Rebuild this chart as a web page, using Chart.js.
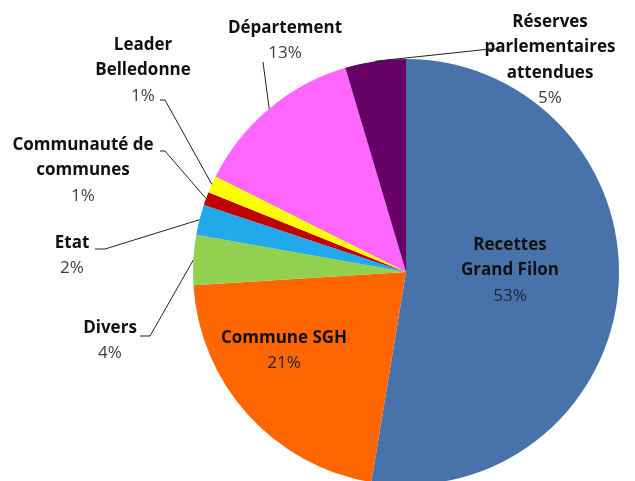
<!DOCTYPE html>
<html lang="fr">
<head>
<meta charset="utf-8">
<title>Financement</title>
<script src="https://cdn.jsdelivr.net/npm/chart.js"></script>
<style>
  html, body { margin: 0; padding: 0; background: #fff; overflow: hidden; }
  #wrap { position: absolute; left: 0; top: 0; width: 635px; height: 485px; }
</style>
</head>
<body>
<div id="wrap"><canvas id="pie"></canvas></div>
<script>
// categories, clockwise from 12 o'clock
const categories = [
  ['Recettes', 'Grand Filon'],
  ['Commune SGH'],
  ['Divers'],
  ['Etat'],
  ['Communauté de', 'communes'],
  ['Leader', 'Belledonne'],
  ['Département'],
  ['Réserves', 'parlementaires', 'attendues']
];
// shares (%)
const shares = [52.6, 21.4, 3.8, 2.3, 1.0, 1.3, 13.0, 4.6];
const sliceColors = ['#4773AA', '#FF6600', '#92D050', '#21A9EC', '#C00000', '#FFFF00', '#FF66FF', '#660066'];

// where each label sits (first line centre) and the bend of its leader line
const labelLayout = [
  { x: 510, y: 245, inside: true },
  { x: 284, y: 338, inside: true },
  { x: 110, y: 328, bend: [150, 336], end: [140, 336] },
  { x: 72,  y: 243, bend: [105, 249], end: [95, 249] },
  { x: 83,  y: 145, bend: [165, 151], end: [160, 151] },
  { x: 143, y: 45,  bend: [165, 100], end: [160, 100] },
  { x: 285, y: 28,  end: [263, 62] },
  { x: 550, y: 22,  bend: [490, 49], end: [500, 49] }
];

const LINE_H = 25.5;
const FONT = '"Open Sans", "DejaVu Sans", sans-serif';

const labelPlugin = {
  id: 'pieLabels',
  afterDatasetsDraw(chart) {
    const ctx = chart.ctx;
    const meta = chart.getDatasetMeta(0);
    const data = chart.data.datasets[0].data;
    const total = data.reduce((a, b) => a + b, 0);
    ctx.save();
    meta.data.forEach((arc, i) => {
      const p = arc.getProps(['x', 'y', 'startAngle', 'endAngle', 'outerRadius'], true);
      const mid = (p.startAngle + p.endAngle) / 2;
      const ax = p.x + Math.cos(mid) * p.outerRadius;
      const ay = p.y + Math.sin(mid) * p.outerRadius;
      const lay = labelLayout[i];
      if (!lay.inside) {
        ctx.beginPath();
        ctx.moveTo(ax, ay);
        if (lay.bend) ctx.lineTo(lay.bend[0], lay.bend[1]);
        ctx.lineTo(lay.end[0], lay.end[1]);
        ctx.strokeStyle = '#222';
        ctx.lineWidth = 1;
        ctx.stroke();
      }
      const lines = chart.data.labels[i];
      ctx.textAlign = 'center';
      ctx.textBaseline = 'middle';
      ctx.font = 'bold 17px ' + FONT;
      ctx.fillStyle = '#111';
      lines.forEach((t, k) => ctx.fillText(t, lay.x, lay.y + k * LINE_H));
      ctx.font = '17px ' + FONT;
      ctx.fillStyle = lay.inside ? '#1d2535' : '#404040';
      const pct = Math.round(data[i] / total * 100) + '%';
      ctx.fillText(pct, lay.x, lay.y + lines.length * LINE_H);
    });
    ctx.restore();
  }
};

new Chart(document.getElementById('pie'), {
  type: 'pie',
  data: {
    labels: categories,
    datasets: [{
      data: shares,
      backgroundColor: sliceColors,
      borderWidth: 0
    }]
  },
  options: {
    responsive: true,
    maintainAspectRatio: false,
    animation: false,
    layout: { padding: { top: 59, left: 193, right: 16, bottom: 0 } },
    plugins: {
      legend: { display: false },
      tooltip: { enabled: false }
    }
  },
  plugins: [labelPlugin]
});
</script>
</body>
</html>
